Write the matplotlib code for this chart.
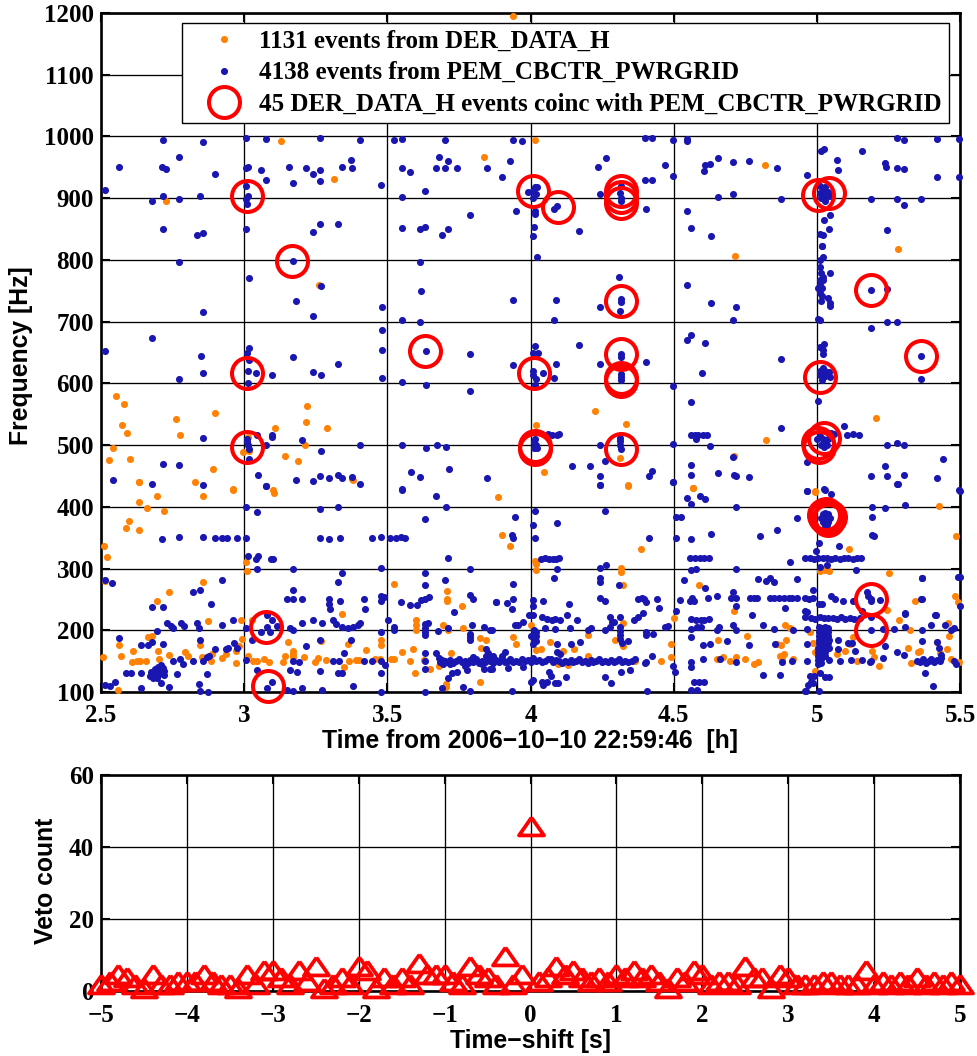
import matplotlib
matplotlib.use('Agg')
import matplotlib.pyplot as plt
from matplotlib.lines import Line2D
from matplotlib.markers import MarkerStyle

# (time [h], frequency [Hz])
der_events = [
(2.51,336),(2.522,319),(2.587,365),(2.597,377),(2.631,363),(2.631,408),(2.631,440),(2.697,418),(2.721,393),(2.857,417),
(2.962,428),(3.103,422),(3.008,310),(3.009,296),(2.855,279),(2.736,262),(2.694,248),(2.874,215),(2.99,216),(3.026,216),
(2.994,186),(2.983,174),(2.679,191),(2.665,189),(2.562,176),(2.506,156),(2.571,159),(2.613,167),(2.607,149),(2.624,151),
(2.636,151),(2.657,150),(2.699,167),(2.703,153),(2.737,160),(2.793,164),(2.805,158),(2.847,176),(2.853,157),(2.883,151),
(2.888,162),(2.921,155),(2.938,162),(2.97,147),(2.97,167),(3.014,158),(3.031,150),(3.045,150),(3.07,154),(3.085,148),
(2.56,103),(3.136,149),(3.143,158),(3.153,181),(3.171,167),(3.171,162),(3.171,157),(3.208,157),(3.247,149),(3.258,155),
(3.27,183),(3.287,152),(3.349,140),(3.343,227),(3.363,178),(3.366,151),(3.39,152),(3.4,152),(3.427,168),(3.456,154),
(3.473,153),(3.479,184),(3.479,176),(3.514,154),(3.523,153),(3.523,275),(3.55,165),(3.578,151),(3.59,170),(3.598,131),
(3.6,217),(3.6,208),(3.6,200),(3.38,443),(3.628,152),(3.648,138),(3.682,142),(3.708,263),(3.708,251),(3.708,247),
(3.706,113),(3.706,108),(3.694,209),(3.712,200),(3.723,163),(3.76,239),(3.766,203),(3.822,187),(3.843,185),(3.822,116),
(3.826,171),(3.886,416),(3.93,337),(4.015,313),(4.02,308),(4.019,298),(4.339,435),(4.566,431),(4.386,332),(4.315,301),
(4.315,294),(4.324,273),(4.587,273),(4.712,232),(4.994,424),(5.111,332),(5.425,402),(5.487,353),(5.253,293),(5.012,296),
(5.044,296),(5.03,298),(5.344,247),(5.481,255),(5.493,246),(5.245,233),(5.286,217),(5.326,200),(5.457,212),(5.46,191),
(3.939,189),(3.951,178),(4.003,208),(4.202,193),(4.324,212),(4.324,175),(4.295,185),(4.491,178),(4.5,220),(4.491,157),
(4.456,150),(4.365,151),(4.02,168),(4.038,170),(4.068,181),(4.114,167),(4.153,170),(4.097,146),(4.132,143),(4.2,159),
(4.347,136),(4.654,185),(4.756,191),(4.65,154),(4.671,157),(4.697,150),(4.718,157),(4.749,154),(4.779,146),(4.794,148),
(4.86,178),(4.874,176),(4.889,208),(4.907,204),(4.893,185),(4.872,159),(4.885,161),(4.878,154),(4.918,153),(4.977,197),
(4.986,179),(4.992,165),(4.994,134),(5.07,161),(5.099,166),(5.128,189),(5.117,178),(5.14,151),(5.192,166),(5.198,157),
(5.216,142),(5.317,171),(5.361,167),(5.329,147),(5.42,181),(5.455,170),(5.468,154),(5.495,149),(5.352,164),(5.43,163),
(2.552,580),(2.58,567),(2.575,532),(2.592,520),(2.762,543),(2.776,517),(2.899,552),(2.542,495),(2.529,476),(2.601,477),
(2.89,461),(2.632,441),(2.962,429),(2.995,489),(3.016,490),(3.106,527),(3.219,563),(3.215,538),(3.288,527),(3.212,500),
(3.144,482),(3.189,474),(3.378,445),(3.262,760),(3.013,513),(3.102,427),(4.713,806),(5.285,818),(4.224,555),(4.335,534),
(4.018,532),(4.823,509),(5.207,544),(4.314,479),(4.048,457),(4.34,434),(4.568,431),(4.709,483),(4.994,426),(4.015,994),
(4.819,954),(3.128,992),(3.314,931),(2.728,895),(3.837,967),(3.94,1195),(2.83,440),(2.66,398),(2.515,280),(3.9,355),
]

pem_events = [
# lower left
(2.514,282),(2.54,277),(2.563,187),(2.514,112),(2.53,109),(2.55,117),(2.587,130),(2.605,131),(2.638,176),(2.638,130),
(2.638,107),(2.665,176),(2.678,181),(2.694,199),(2.679,238),(2.715,238),(2.714,348),(2.773,351),(2.855,351),(2.898,349),
(2.921,350),(2.94,349),(2.974,349),(3.007,350),(2.717,178),(2.71,115),(2.737,108),(2.767,129),(2.752,151),(2.776,153),
(2.785,146),(2.82,151),(2.847,265),(2.82,262),(2.921,282),(2.883,243),(2.729,212),(2.744,207),(2.752,204),(2.781,212),
(2.79,207),(2.834,211),(2.841,204),(2.921,208),(2.96,217),(2.847,185),(2.897,170),(2.857,151),(2.869,156),(2.878,159),
(2.869,129),(2.841,113),(2.845,101),(2.872,100),(2.936,170),(2.944,171),(2.965,180),(2.974,171),(3.008,204),(3.026,185),
(3.008,152),(3.045,135),(3.078,107),(3.098,117),(3.078,224),(3.098,217),(3.078,205),(3.06,197),(3.09,197),(3.116,207),
(2.67,126),(2.68,124),(2.685,130),(2.69,128),(2.695,133),(2.7,127),(2.705,136),(2.71,131),(2.715,139),(2.72,134),
(2.675,132),(2.69,137),(2.7,141),(2.71,144),(2.72,128),(2.683,122),(2.695,122),
(3.008,400),(3.045,391),(3.077,433),(3.014,320),(3.049,320),(3.043,315),(3.093,316),(3.101,316),(3.045,299),(3.171,300),
(3.171,266),(3.148,250),(3.171,250),(3.202,250),(3.159,203),(3.171,200),(3.202,212),(3.241,216),(3.273,211),(3.31,216),
(3.322,210),(3.34,205),(3.363,204),(3.38,205),(3.398,209),(3.403,211),(3.266,397),(3.329,400),(3.264,350),(3.295,348),
(3.336,350),(3.448,350),(3.479,351),(3.508,350),(3.53,350),(3.549,351),(3.562,349),(3.329,278),(3.34,293),(3.295,250),
(3.295,243),(3.299,235),(3.336,248),(3.417,250),(3.423,234),(3.479,301),(3.479,255),(3.479,247),(3.488,254),(3.216,174),
(3.264,185),(3.171,151),(3.192,149),(3.159,136),(3.183,133),(3.151,103),(3.171,101),(3.201,107),(3.273,104),(3.266,134),
(3.31,151),(3.331,151),(3.349,163),(3.374,185),(3.328,130),(3.34,131),(3.38,109),(3.417,151),(3.445,151),(3.479,151),
(3.479,131),(3.479,100),(3.479,197),(3.491,144),(3.502,216),(3.523,200),(3.523,205),(3.55,427),(3.706,400),(3.63,381),
(3.671,418),(3.712,317),(3.633,293),(3.703,282),(3.633,274),(3.787,299),(3.787,257),(3.8,250),(3.549,245),(3.58,241),
(3.603,241),(3.619,249),(3.644,254),(3.63,251),(3.733,229),(3.878,245),(3.63,210),(3.642,211),(3.63,203),(3.63,197),
(3.63,192),(3.677,199),(3.712,203),(3.795,209),(3.787,194),(3.787,189),(3.787,184),(3.837,205),(3.864,201),(3.63,163),
(3.63,150),(3.633,138),(3.671,163),(3.712,123),(3.726,131),(3.743,132),(3.77,142),(3.779,136),(3.837,137),(3.859,138),
(3.633,100),(3.692,106),(3.764,108),(3.787,102),(3.845,170),(3.845,159),
# the line near 150 Hz
(3.68,155),(3.685,148),(3.69,152),(3.695,146),(3.70,151),(3.71,148),(3.72,152),(3.73,147),(3.74,150),(3.75,153),
(3.76,148),(3.77,151),(3.78,147),(3.79,152),(3.80,149),(3.81,153),(3.82,147),(3.83,151),(3.84,148),(3.85,153),
(3.86,150),(3.87,147),(3.88,152),(3.89,149),(3.90,153),(3.91,148),(3.92,151),(3.93,154),(3.94,149),(3.95,151),
(3.96,148),(3.97,153),(3.98,150),(3.99,152),(4.00,149),(4.01,155),(4.02,150),(4.03,152),(4.04,148),(4.05,151),
(4.06,153),(4.07,154),(4.08,149),(4.09,152),(4.10,150),(4.11,147),(4.12,151),(4.13,149),(4.14,152),(4.15,148),
(4.16,150),(4.17,153),(4.18,149),(4.19,151),(4.20,147),(4.21,152),(4.22,149),(4.23,150),(4.24,153),(4.25,148),
(4.26,151),(4.27,149),(4.28,152),(4.29,148),(4.30,150),(4.31,153),(4.32,149),(4.33,151),(4.34,148),(4.355,150),
(4.365,153),(3.72,146),(3.80,157),(3.85,163),(3.87,159),(3.83,145),(3.90,158),(3.91,165),
# middle
(3.945,383),(3.937,354),(3.94,349),(4.015,394),(4.009,371),(4.015,349),(4.091,373),(4.038,316),(4.05,317),(4.065,316),
(4.08,316),(4.09,316),(4.10,317),(4.091,299),(4.082,285),(4.242,436),(4.26,394),(4.242,301),(4.262,305),(4.242,285),
(4.242,278),(4.242,252),(4.26,247),(4.309,274),(4.414,350),(4.496,440),(3.879,245),(3.918,244),(3.939,275),(3.939,251),
(3.934,235),(4.007,249),(4.009,240),(4.044,248),(4.134,243),(4.129,224),(4.164,216),(4.277,222),(4.283,214),(4.312,221),
(3.945,209),(3.957,209),(3.975,213),(3.995,224),(4.009,225),(4.04,222),(4.056,218),(4.074,217),(4.085,218),(4.103,216),
(4.05,203),(4.085,202),(4.138,204),(4.2,201),(4.21,203),(4.26,200),(4.277,205),(4.29,213),(4.012,200),(4.02,198),
(4.012,192),(4.02,190),(4.012,185),(4.02,183),(4.008,178),(4.0,190),(3.858,201),(4.376,250),(4.39,253),(4.398,250),
(4.405,245),(4.442,251),(4.45,236),(4.392,228),(4.376,221),(4.362,216),(4.312,205),(4.312,199),(4.312,192),(4.312,186),
(4.318,180),(4.342,182),(4.405,197),(4.405,192),(4.429,194),(4.468,205),(4.479,207),(4.507,232),(4.091,178),(4.143,178),
(4.172,181),(4.091,165),(4.103,162),(4.423,159),(4.4,147),(4.405,149),(4.497,142),(4.505,132),(4.01,120),(4.0,117),
(4.04,117),(4.045,112),(4.058,117),(4.064,132),(4.07,126),(4.085,115),(4.097,115),(4.124,125),(4.26,124),(4.28,115),
(4.315,132),(4.347,135),(4.406,101),(3.934,102),(3.92,139),(3.975,140),(3.864,138),
# right
(4.548,415),(4.561,404),(4.592,418),(4.61,412),(4.718,400),(4.508,383),(4.524,383),(4.508,350),(4.561,348),(4.63,356),
(4.557,317),(4.575,317),(4.592,317),(4.606,317),(4.622,317),(4.561,297),(4.578,299),(4.718,299),(4.537,281),(4.609,269),
(4.557,248),(4.563,252),(4.57,247),(4.522,249),(4.619,253),(4.65,255),(4.7,253),(4.717,253),(4.706,262),(4.717,240),
(4.765,253),(4.779,252),(4.79,253),(4.796,283),(4.823,280),(4.837,284),(4.85,279),(4.93,283),(4.837,253),(4.85,253),
(4.867,252),(4.884,252),(4.902,252),(4.914,252),(4.93,252),(4.957,252),(4.971,250),(4.988,253),(4.988,265),(5.006,243),
(5.018,243),(4.889,236),(4.775,225),(4.56,218),(4.578,216),(4.595,216),(4.606,216),(4.624,218),(4.561,202),(4.561,189),
(4.583,206),(4.594,205),(4.66,205),(4.652,201),(4.708,209),(4.717,200),(4.813,209),(4.852,202),(4.916,200),(4.965,202),
(4.601,176),(4.627,178),(4.688,182),(4.763,176),(4.854,178),(4.965,177),(4.959,221),(4.959,232),(4.561,148),(4.561,140),
(4.604,153),(4.662,154),(4.717,149),(4.877,149),(4.912,150),(4.965,151),(4.813,127),(4.872,127),(4.57,117),(4.588,117),
(4.605,117),(4.561,103),(4.583,103),(4.962,101),(5.006,102),(4.98,117),(4.97,112),(4.988,115),(5.01,130),(5.027,125),
(5.042,125),(4.958,101),(4.977,126),(4.99,126),
(5.008,205),(5.016,203),(5.028,205),(5.04,203),(5.008,198),(5.02,197),(5.03,199),(5.04,197),(5.006,191),(5.016,192),
(5.028,191),(5.04,190),(5.006,185),(5.018,186),(5.03,184),(5.042,185),(5.006,179),(5.016,178),(5.03,178),(5.04,179),
(5.004,172),(5.014,172),(5.028,171),(5.042,172),(5.004,165),(5.014,166),(5.028,165),(5.004,158),(5.014,160),(5.028,158),
(5.004,152),(5.014,153),(5.004,146),(5.014,147),
(4.965,229),(4.98,220),(4.995,219),(5.01,221),(5.025,220),(5.04,220),(5.055,220),(5.07,219),(5.085,221),(5.1,219),
(5.115,220),(5.13,219),(5.15,220),
(4.96,317),(4.975,317),(4.99,316),(5.005,317),(5.02,317),(5.035,317),(5.05,315),(5.065,317),(5.08,316),(5.095,317),
(5.11,317),(5.125,316),(5.14,317),(5.155,317),(4.906,310),(4.996,329),(5.008,342),(5.076,336),(5.01,303),(5.037,305),
(5.138,298),(5.05,255),(5.065,250),(5.09,248),(4.967,425),(5.027,427),(5.049,421),(4.93,382),(5.192,400),(5.192,383),
(5.239,398),(5.307,403),(5.282,437),(5.499,426),(5.499,286),(5.367,285),(5.367,251),(5.309,228),(5.414,225),(5.2,353),
(5.193,354),(4.802,353),(4.86,363),(5.499,240),
(5.19,250),(5.18,255),(5.19,247),(5.22,249),(5.175,262),(5.125,248),(5.156,232),(5.19,221),(5.189,200),(5.232,202),
(5.269,202),(5.307,227),(5.307,205),(5.366,285),(5.363,250),(5.366,200),(5.366,183),(5.418,181),(5.425,172),(5.416,225),
(5.4,208),(5.447,208),(5.47,200),(5.48,203),(5.494,286),(5.48,151),(5.485,146),(5.435,160),(5.28,165),(5.305,160),
(5.237,174),(5.232,155),(5.19,151),(5.185,149),(5.156,152),(5.119,152),(5.08,151),(5.043,152),(5.135,167),(5.122,180),
(5.108,180),(5.075,185),(5.075,170),(5.35,151),(5.36,149),(5.37,153),(5.38,147),(5.39,150),(5.4,153),(5.41,149),
(5.42,152),(5.43,150),(5.435,155),(5.377,130),(5.406,109),
# blob inside the rings near 380 Hz
(5.02,388),(5.03,390),(5.04,388),(5.015,382),(5.025,383),(5.035,384),(5.045,382),(5.02,376),(5.03,377),(5.04,376),
(5.028,371),(5.036,370),(5.03,366),
# mid band
(3.016,770),(3.172,799),(3.267,757),(3.182,733),(3.242,709),(2.855,716),(3.48,723),(3.552,703),(3.615,700),(3.615,797),
(3.616,750),(3.48,687),(3.48,654),(3.48,609),(3.552,603),(3.634,598),(3.634,652),(3.789,648),(3.789,587),(3.94,735),
(3.94,630),(2.677,674),(2.514,653),(2.849,645),(2.855,617),(2.774,607),(2.774,797),(3.016,657),(3.009,649),(3.016,638),
(3.012,620),(3.041,617),(3.096,613),(3.012,600),(3.172,642),(3.242,618),(3.267,614),(3.329,631),(2.855,512),(3.01,510),
(3.01,505),(3.013,500),(3.016,494),(3.044,517),(3.098,517),(3.098,513),(3.076,500),(3.202,509),(3.267,491),(3.405,500),
(3.552,500),(3.634,495),(3.672,500),(3.705,497),(3.016,478),(2.715,470),(2.774,468),(2.541,443),(2.677,437),(2.855,436),
(3.047,451),(3.076,433),(3.182,443),(3.242,442),(3.265,450),(3.295,447),(3.329,452),(3.343,447),(3.378,448),(3.405,437),
(3.552,429),(3.581,457),(3.615,449),(3.714,461),(3.848,447),
(4.024,805),(4.309,772),(4.09,735),(4.243,724),(4.316,737),(4.316,732),(4.314,717),(4.082,703),(4.548,760),(4.631,730),
(4.717,723),(4.706,703),(4.561,679),(4.548,671),(4.608,665),(4.171,662),(4.015,660),(4.007,650),(4.025,650),(4.09,631),
(4.243,631),(4.316,648),(4.316,643),(4.405,634),(4.082,609),(4.01,620),(4.01,613),(4.02,607),(4.015,597),(4.042,617),
(4.315,615),(4.315,610),(4.316,606),(4.874,640),(4.598,617),(4.497,595),(4.561,569),(4.874,528),(5.005,571),(4.062,518),
(4.092,517),(4.101,518),(4.076,517),(4.016,510),(4.012,505),(4.02,500),(4.012,496),(4.022,495),(4.243,500),(4.313,512),
(4.313,507),(4.313,500),(4.316,494),(4.144,466),(4.208,466),(4.26,475),(4.244,450),(4.244,436),(4.414,450),(4.423,458),
(4.497,440),(4.497,501),(4.561,517),(4.575,517),(4.586,517),(4.604,517),(4.616,517),(4.577,510),(4.628,498),(4.706,480),
(4.561,468),(4.561,451),(4.654,455),(4.712,452),(4.717,450),(4.763,448),(4.967,472),(4.967,426),(5.025,429),(5.497,428),
(5.0,510),(5.01,515),(5.02,510),(5.03,505),(5.04,510),(5.015,500),(5.025,497),(5.035,500),(5.045,515),(5.05,520),
(5.06,518),(5.095,531),(5.105,517),(5.128,518),(5.149,517),(5.244,500),(5.281,503),(5.306,500),(5.44,477),(5.238,466),
(5.189,450),(5.244,450),(5.306,451),(5.281,437),(5.42,447),
(5.017,822),(5.021,805),(5.011,800),(5.011,788),(5.014,779),(5.022,773),(5.011,768),(5.022,767),(5.011,760),(5.017,755),
(5.005,755),(5.011,747),(5.017,741),(5.014,734),(5.047,779),(5.04,738),(5.047,730),(5.047,726),(5.005,705),(5.011,703),
(5.189,752),(5.244,753),(5.244,699),(5.281,699),(5.189,689),(5.365,644),(5.365,607),(5.025,664),(5.01,659),(5.023,654),
(5.023,648),(5.01,620),(5.02,625),(5.03,620),(5.01,613),(5.02,610),(5.03,612),(5.042,618),(5.047,610),(5.018,605),
# top band
(4.4,997),(4.423,997),(4.497,994),(4.546,996),(4.548,993),(4.262,965),(4.236,950),(4.469,953),(4.4,930),(4.423,930),
(4.497,936),(4.61,953),(4.606,944),(4.628,955),(4.654,965),(4.706,959),(4.763,961),(4.86,949),(4.967,937),(5.014,976),
(5.025,980),(5.072,962),(5.074,946),(5.156,976),(5.238,957),(5.243,950),(5.281,949),(5.306,947),(5.281,997),(5.306,994),
(5.42,996),(5.497,996),(5.42,934),(5.497,934),(4.654,902),(4.706,907),(4.874,898),(5.19,898),(5.281,898),(5.306,889),
(5.365,898),(4.016,918),(4.024,918),(4.01,912),(4.02,906),(4.01,900),(4.243,907),(4.316,919),(4.313,909),(4.316,901),
(4.316,895),(4.092,888),(4.083,883),(4.016,880),(4.014,875),(4.405,883),(4.548,880),(4.561,851),(4.631,838),(4.012,853),
(4.009,839),(4.171,847),(5.012,920),(5.02,915),(5.03,918),(5.012,908),(5.025,905),(5.04,910),(5.015,900),(5.03,898),
(5.045,903),(5.028,895),(5.046,873),(5.025,864),(5.043,850),(5.244,849),(5.01,842),(5.021,841),(5.017,822),
(2.715,994),(2.855,991),(3.007,998),(3.076,996),(3.264,997),(3.403,995),(3.523,994),(3.55,996),(3.703,995),(2.773,967),
(2.563,951),(2.714,950),(2.727,947),(3.008,949),(3.015,950),(3.06,946),(3.155,950),(3.216,949),(3.264,946),(3.341,951),
(3.378,949),(3.374,962),(2.897,939),(3.24,939),(3.076,929),(3.171,925),(3.264,928),(3.479,922),(2.514,914),(3.008,920),
(2.715,903),(2.678,895),(2.773,898),(2.847,903),(3.013,904),(3.008,898),(3.009,890),(3.551,949),(3.58,943),(3.633,912),
(3.551,902),(3.679,966),(3.713,960),(3.671,949),(3.703,949),(3.743,949),(3.848,949),(2.715,850),(2.834,840),(2.855,844),
(3.007,850),(3.241,846),(3.266,858),(3.329,858),(3.551,852),(3.615,850),(3.631,853),(3.692,841),(3.713,850),(3.787,873),
(3.94,995),(3.97,993),(3.93,960),(3.9,935),(3.99,910),(3.95,880),
]

coinc_events = [
(3.01,903),(3.167,799),(3.01,617),(3.01,497),(3.076,205),(3.083,109),(3.63,652),(4.01,912),(4.096,886),(4.017,493),
(4.017,498),(4.013,616),(4.316,733),(4.316,648),(4.316,609),(4.316,604),(4.316,493),(4.316,912),(4.316,902),(4.316,893),
(5.005,905),(5.043,908),(5.01,610),(5.189,752),(5.365,644),(5.19,200),(5.19,250),(5.025,512),(5.005,504),(5.008,497),
(5.03,383),(5.045,383),(5.025,386),(5.04,379),(5.033,388),
]

veto_shift = [-5.0,-4.9,-4.8,-4.7,-4.6,-4.5,-4.4,-4.3,-4.2,-4.1,-4.0,-3.9,-3.8,-3.7,-3.6,-3.5,-3.4,-3.3,-3.2,-3.1,-3.0,
              -2.9,-2.8,-2.7,-2.6,-2.5,-2.4,-2.3,-2.2,-2.1,-2.0,-1.9,-1.8,-1.7,-1.6,-1.5,-1.4,-1.3,-1.2,-1.1,-1.0,
              -0.9,-0.8,-0.7,-0.6,-0.5,-0.4,-0.3,-0.2,-0.1,0.0,0.1,0.2,0.3,0.4,0.5,0.6,0.7,0.8,0.9,1.0,
              1.1,1.2,1.3,1.4,1.5,1.6,1.7,1.8,1.9,2.0,2.1,2.2,2.3,2.4,2.5,2.6,2.7,2.8,2.9,3.0,
              3.1,3.2,3.3,3.4,3.5,3.6,3.7,3.8,3.9,4.0,4.1,4.2,4.3,4.4,4.5,4.6,4.7,4.8,4.9,5.0]
veto_count = [1,2,4,3,1,0,4,1,1,2,2,2,4,2,1,1,0,4,1,5,5,
              3,1,5,2,6,0,1,3,1,6,5,0,3,1,3,1,7,4,4,4,
              2,1,6,4,3,1,9,1,4,45,2,3,6,4,5,3,2,3,2,4,
              3,5,3,4,2,0,3,2,5,4,1,2,2,1,6,3,3,0,4,3,
              1,1,1,2,2,1,1,1,5,1,2,1,2,1,3,1,2,1,2,1]

legend_labels = ['1131 events from DER_DATA_H',
                 '4138 events from PEM_CBCTR_PWRGRID',
                 '45 DER_DATA_H events coinc with PEM_CBCTR_PWRGRID']

top_xticks = [2.5, 3, 3.5, 4, 4.5, 5, 5.5]
top_xlabels = ['2.5', '3', '3.5', '4', '4.5', '5', '5.5']
top_yticks = [100, 200, 300, 400, 500, 600, 700, 800, 900, 1000, 1100, 1200]
bot_xticks = [-5, -4, -3, -2, -1, 0, 1, 2, 3, 4, 5]
bot_xlabels = ['\u22125', '\u22124', '\u22123', '\u22122', '\u22121', '0', '1', '2', '3', '4', '5']
bot_yticks = [0, 20, 40, 60]

ORANGE = '#ff8204'
BLUE = '#1a17b0'
RED = '#ff0000'
W, H = 977, 1056
# wide triangle sitting on its centroid, as in the original
TRI = MarkerStyle([(0, 1), (-1.05, -0.5), (1.05, -0.5), (0, 1)], joinstyle='miter')

serif = ['Liberation Serif', 'DejaVu Serif']
sans = ['Liberation Sans', 'DejaVu Sans']

fig = plt.figure(figsize=(W / 100, H / 100), dpi=100)
ax1 = fig.add_axes([101 / W, 1 - 692 / H, 859 / W, 679 / H])
ax2 = fig.add_axes([101 / W, 1 - 991 / H, 859 / W, 216 / H])


def style_axes(ax):
    ax.grid(True, color='black', linewidth=0.95, linestyle='-')
    ax.set_axisbelow(True)
    for s in ax.spines.values():
        s.set_linewidth(1.9)
    ax.tick_params(direction='in', length=6.5, width=1.5, top=True, right=True)
    ax.tick_params(axis='x', pad=9)
    ax.tick_params(axis='y', pad=5)
    for lab in ax.get_xticklabels() + ax.get_yticklabels():
        lab.set_family(serif)
        lab.set_fontweight('bold')
        lab.set_fontsize(18)


# top panel
ax1.plot([p[0] for p in der_events], [p[1] for p in der_events], 'o', color=ORANGE, ms=5.1, mew=0, clip_on=False, zorder=3)
ax1.plot([p[0] for p in pem_events], [p[1] for p in pem_events], 'o', color=BLUE, ms=5.1, mew=0, clip_on=False, zorder=4)
ax1.plot([p[0] for p in coinc_events], [p[1] for p in coinc_events], 'o', mfc='none', mec=RED, ms=22.3, mew=2.9, clip_on=False, zorder=5)
ax1.set_xlim(2.5, 5.5)
ax1.set_ylim(100, 1200)
ax1.set_xticks(top_xticks)
ax1.set_xticklabels(top_xlabels)
ax1.set_yticks(top_yticks)
style_axes(ax1)

handles = [Line2D([], [], marker='o', ls='', color=ORANGE, ms=5.1, mew=0),
           Line2D([], [], marker='o', ls='', color=BLUE, ms=5.1, mew=0),
           Line2D([], [], marker='o', ls='', mfc='none', mec=RED, ms=22.3, mew=2.9)]
leg = ax1.legend(handles, legend_labels, loc='upper left', bbox_to_anchor=(182 / W, 1 - 23 / H),
                 bbox_transform=fig.transFigure, borderaxespad=0, fancybox=False, framealpha=1,
                 edgecolor='black', numpoints=1, handlelength=2.78, handletextpad=0.02,
                 labelspacing=0.33, borderpad=0.28, prop={'family': serif, 'weight': 'bold', 'size': 18.0})
leg.get_frame().set_linewidth(1.0)
leg.set_zorder(10)

fig.text(530 / W, 1 - 741 / H, 'Time from 2006\u221210\u221210 22:59:46  [h]', family=sans, fontweight='bold',
         fontsize=17.8, ha='center', va='center')
fig.text(21 / W, 1 - 356 / H, 'Frequency [Hz]', family=sans, fontweight='bold', fontsize=17.8,
         rotation=90, ha='center', va='center')

# bottom panel
ax2.plot(veto_shift, veto_count, linestyle='none', marker=TRI, mfc='none', mec=RED, ms=18, mew=2.7, clip_on=False, zorder=5)
ax2.set_xlim(-5, 5)
ax2.set_ylim(0, 60)
ax2.set_xticks(bot_xticks)
ax2.set_xticklabels(bot_xlabels)
ax2.set_yticks(bot_yticks)
style_axes(ax2)

fig.text(530 / W, 1 - 1041 / H, 'Time\u2212shift [s]', family=sans, fontweight='bold', fontsize=17.8,
         ha='center', va='center')
fig.text(46 / W, 1 - 881 / H, 'Veto count', family=sans, fontweight='bold', fontsize=17.8,
         rotation=90, ha='center', va='center')

fig.savefig('out.png', dpi=100)
